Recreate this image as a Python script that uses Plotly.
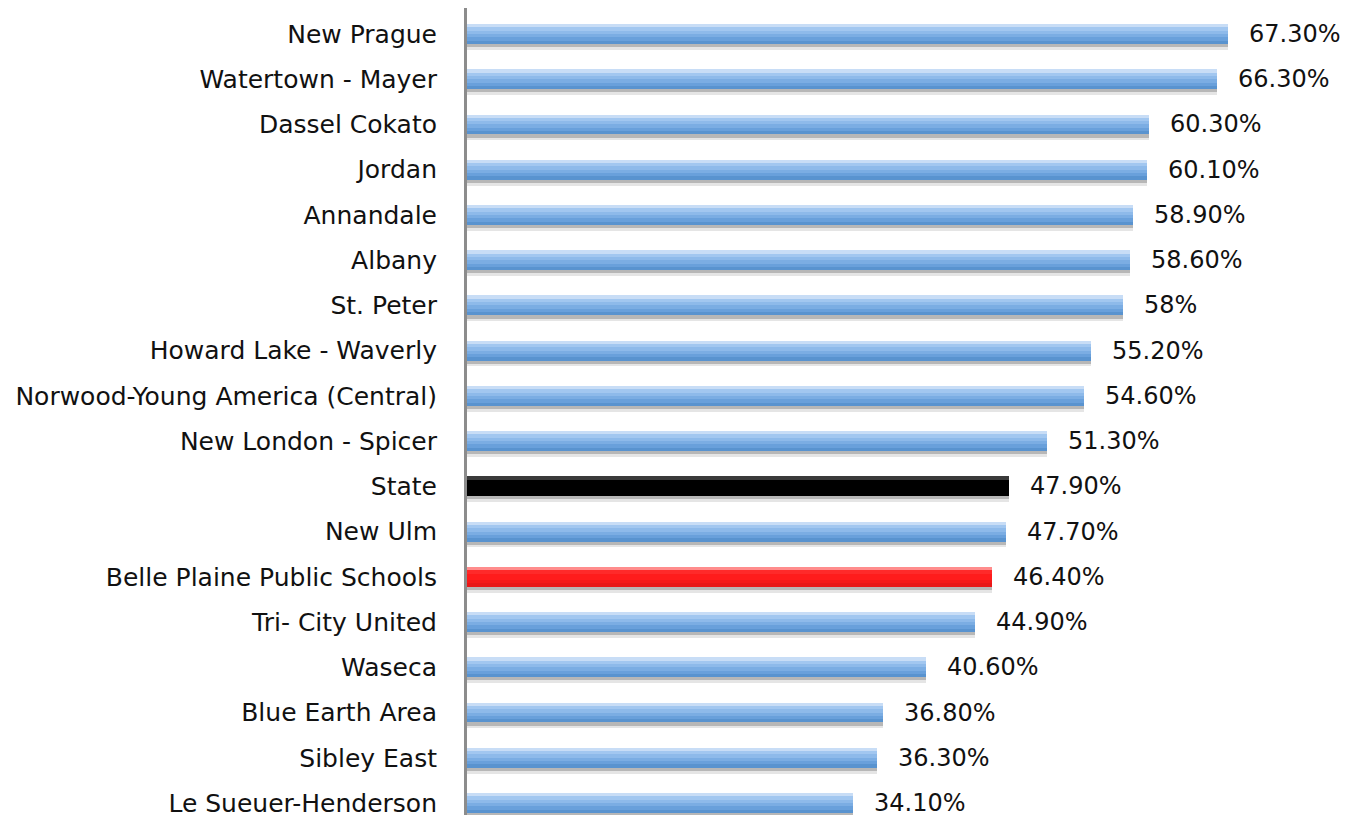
import plotly.graph_objects as go

categories = ["New Prague", "Watertown - Mayer", "Dassel Cokato", "Jordan", "Annandale",
              "Albany", "St. Peter", "Howard Lake - Waverly", "Norwood-Young America (Central)",
              "New London - Spicer", "State", "New Ulm", "Belle Plaine Public Schools",
              "Tri- City United", "Waseca", "Blue Earth Area", "Sibley East", "Le Sueuer-Henderson"]
values = [67.3, 66.3, 60.3, 60.1, 58.9, 58.6, 58.0, 55.2, 54.6, 51.3,
          47.9, 47.7, 46.4, 44.9, 40.6, 36.8, 36.3, 34.1]
value_labels = ["67.30%", "66.30%", "60.30%", "60.10%", "58.90%", "58.60%", "58%", "55.20%",
                "54.60%", "51.30%", "47.90%", "47.70%", "46.40%", "44.90%", "40.60%",
                "36.80%", "36.30%", "34.10%"]

# gradient bands (top -> bottom)
blue_bands = ["#c8ddf6", "#a2c7f0", "#8ebaea", "#7bade3", "#69a0db", "#5993cf"]
red_bands = ["#ff8c8c", "#ff2a2a", "#ff1c1c", "#ff1c1c", "#f51a1a", "#e81818"]
black_bands = ["#3a3a3a", "#000000", "#000000", "#000000", "#000000", "#000000"]

FONT = "DejaVu Sans"
FSIZE = 25
VSIZE = 24
W = 0.44
N = len(blue_bands)

fig = go.Figure()

# soft shadow under each bar
for off, w, col in [(W / 2 - 0.02, 0.15, "rgba(0,0,0,0.10)"), (W / 2 - 0.04, 0.11, "rgba(0,0,0,0.20)")]:
    fig.add_trace(go.Bar(x=values, y=categories, orientation="h", width=w, offset=off,
                         marker=dict(color=col, line=dict(width=0)), hoverinfo="skip",
                         showlegend=False))

for k in range(N):
    cols = []
    for c in categories:
        if c == "State":
            cols.append(black_bands[k])
        elif c == "Belle Plaine Public Schools":
            cols.append(red_bands[k])
        else:
            cols.append(blue_bands[k])
    fig.add_trace(go.Bar(x=values, y=categories, orientation="h", width=W - k * W / N,
                         offset=-W / 2 + k * W / N,
                         marker=dict(color=cols, line=dict(width=0)), showlegend=False))

for c, v, t in zip(categories, values, value_labels):
    fig.add_annotation(x=v, y=c, text=t, showarrow=False, xanchor="left", xshift=19,
                       font=dict(family=FONT, size=VSIZE, color="#111111"))

fig.update_layout(
    width=1345, height=815,
    margin=dict(l=467, r=0, t=8, b=0, autoexpand=False),
    paper_bgcolor="white", plot_bgcolor="white",
    barmode="overlay",
    bargap=0,
    xaxis=dict(visible=False, range=[0, 77.65]),
    yaxis=dict(type="category", categoryorder="array", categoryarray=categories,
               range=[17.265, -0.575], showline=True, linecolor="#8c8c8c", linewidth=3,
               showgrid=False, zeroline=False, ticks="", ticklabelstandoff=22,
               automargin=False,
               tickfont=dict(family=FONT, size=FSIZE, color="#111111")),
    showlegend=False,
)

fig.write_html("out.html", config={"displayModeBar": False},
               post_script="document.body.style.margin='0';document.body.style.overflow='hidden';")
